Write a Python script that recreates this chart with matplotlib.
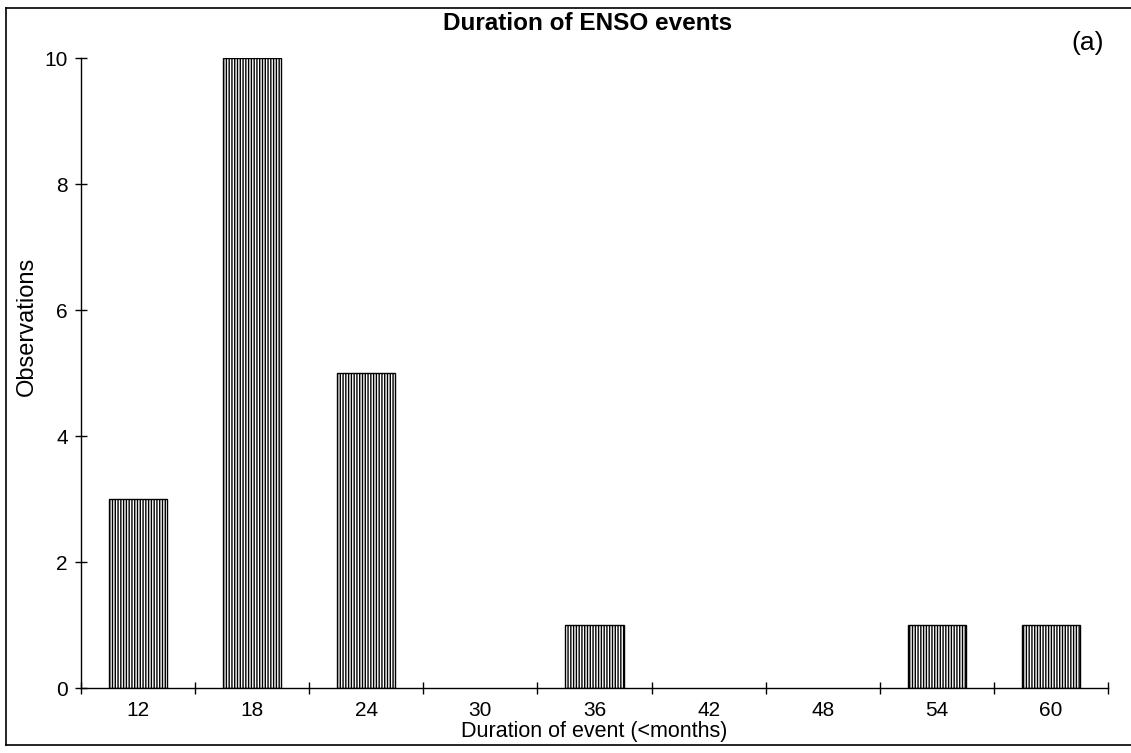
import matplotlib
matplotlib.use("Agg")
import matplotlib.pyplot as plt
from matplotlib.lines import Line2D
import numpy as np

categories = ["12", "18", "24", "30", "36", "42", "48", "54", "60"]
observations = [3, 10, 5, 0, 1, 0, 0, 1, 1]
y_ticks = [0, 2, 4, 6, 8, 10]

plt.rcParams['font.family'] = ['Liberation Sans', 'DejaVu Sans']
plt.rcParams['hatch.linewidth'] = 1.0
plt.rcParams['hatch.color'] = '#222222'

fig = plt.figure(figsize=(11.31, 7.53), dpi=100)
ax = fig.add_axes([81/1131, 1-688/753, (1108-81)/1131, (688-58)/753])

x = np.arange(len(categories))
lws = [1.0 if v > 0 else 0.0 for v in observations]
bars = ax.bar(x, observations, width=0.51, facecolor='white', edgecolor='black',
              hatch='||||||', linewidth=lws, zorder=2)
for b, v in zip(bars, observations):
    if v == 0:
        b.set_visible(False)

ax.set_xlim(-0.5, len(categories) - 0.5)
ax.set_ylim(0, 10)

for s in ['top', 'right']:
    ax.spines[s].set_visible(False)
ax.spines['left'].set_linewidth(1.0)
ax.spines['bottom'].set_linewidth(1.0)

ax.set_xticks(x)
ax.set_xticklabels(categories, fontsize=15)
ax.set_xticks(np.arange(-0.5, len(categories)), minor=True)
ax.tick_params(axis='x', which='major', length=0, pad=9)
ax.tick_params(axis='x', which='minor', direction='inout', length=9, width=1.0)

ax.set_yticks(y_ticks)
ax.set_yticklabels([str(v) for v in y_ticks], fontsize=15)
ax.tick_params(axis='y', which='major', direction='inout', length=9, width=1.0, pad=5)

ax.set_xlabel("Duration of event (<months)", fontsize=15.5, labelpad=1)
ax.set_ylabel("Observations", fontsize=17)
ax.yaxis.set_label_coords(-(81-38)/1027, (688-326)/630)

fig.text(588/1131, 1-24/753, "Duration of ENSO events", fontsize=17.5,
         fontweight='bold', ha='center', va='center')
fig.text(1088/1131, 1-43/753, "(a)", fontsize=19, ha='center', va='center')

# scanned figure frame
fig.add_artist(Line2D([6/1131, 6/1131], [1-745/753, 1-8/753], color='black', lw=1.2))
fig.add_artist(Line2D([6/1131, 1.0], [1-8/753, 1-8/753], color='black', lw=1.2))
fig.add_artist(Line2D([6/1131, 1.0], [1-745/753, 1-745/753], color='black', lw=1.2))

fig.savefig("out.png", dpi=100, facecolor='white')
